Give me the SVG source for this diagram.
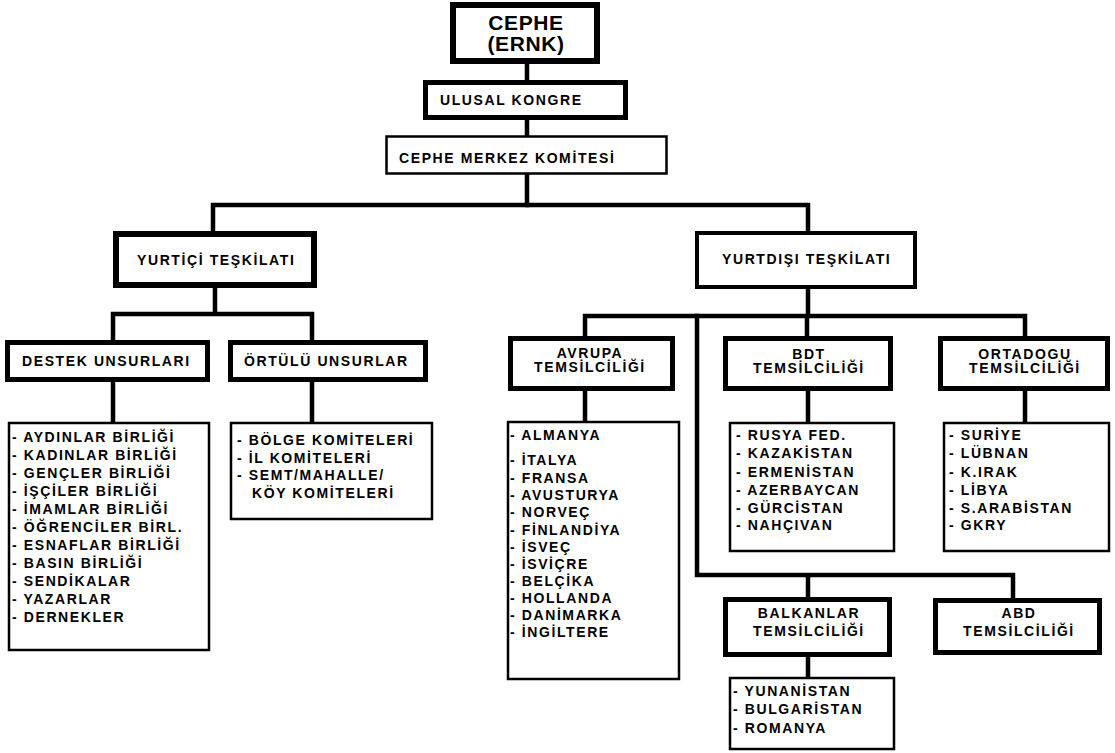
<svg xmlns="http://www.w3.org/2000/svg" width="1115" height="753" viewBox="0 0 1115 753">
<style>
.b{fill:#fff;stroke:#000;stroke-width:5}
.b6{fill:#fff;stroke:#000;stroke-width:6}
.b4{fill:#fff;stroke:#000;stroke-width:4}
.l{fill:#fff;stroke:#000;stroke-width:2.5}
.c{fill:none;stroke:#000;stroke-width:4.5;stroke-linejoin:miter;stroke-linecap:square}
text{font-family:"Liberation Sans",Arial,Helvetica,sans-serif;font-weight:bold;font-size:14px;letter-spacing:1.6px;fill:#000}
.ttl{font-size:21px;letter-spacing:0.6px}
.m{text-anchor:middle}
</style>
<rect width="1115" height="753" fill="#fff"/>
<g id="connectors">
<path class="c" d="M527 64V80M527 120V135M527 175V205"/>
<path class="c" d="M213 231V205H808V231"/>
<path class="c" d="M215 288V314M113 340V314H312V340"/>
<path class="c" d="M113 382V422M312 382V422"/>
<path class="c" d="M808 289V316M585 336V316H1025V336M807 316V336"/>
<path class="c" d="M697 316V575H1013V598M808 575V597"/>
<path class="c" d="M585 391V422M808 391V422M1025 391V422M808 657V677"/>
</g>
<g id="cephe"><rect class="b6" x="453" y="5" width="144" height="56"/>
<text class="ttl m" x="526" y="30">CEPHE</text><text class="ttl m" x="526" y="51">(ERNK)</text></g>
<g id="ulusal"><rect class="b" x="425.5" y="82.5" width="200" height="35"/><text x="440" y="105">ULUSAL KONGRE</text></g>
<g id="merkez"><rect class="l" x="386.5" y="136.5" width="280" height="37"/><text x="399" y="163">CEPHE MERKEZ KOMİTESİ</text></g>
<g id="yurtici"><rect class="b6" x="116" y="234" width="198" height="51"/><text x="137" y="265">YURTİÇİ TEŞKİLATI</text></g>
<g id="yurtdisi"><rect class="b4" x="697" y="233" width="218" height="54"/><text x="722" y="264">YURTDIŞI TEŞKİLATI</text></g>
<g id="destek"><rect class="b" x="7.5" y="342.5" width="200" height="37"/><text x="22" y="366">DESTEK UNSURLARI</text></g>
<g id="ortulu"><rect class="b" x="230.5" y="342.5" width="195" height="37"/><text x="244" y="366">ÖRTÜLÜ UNSURLAR</text></g>
<g id="destek-list"><rect class="l" x="9" y="423" width="200" height="227"/>
<text x="12" y="442">- AYDINLAR BİRLİĞİ</text>
<text x="12" y="460">- KADINLAR BİRLİĞİ</text>
<text x="12" y="478">- GENÇLER BİRLİĞİ</text>
<text x="12" y="496">- İŞÇİLER BİRLİĞİ</text>
<text x="12" y="514">- İMAMLAR BİRLİĞİ</text>
<text x="12" y="532">- ÖĞRENCİLER BİRL.</text>
<text x="12" y="550">- ESNAFLAR BİRLİĞİ</text>
<text x="12" y="568">- BASIN BİRLİĞİ</text>
<text x="12" y="586">- SENDİKALAR</text>
<text x="12" y="604">- YAZARLAR</text>
<text x="12" y="622">- DERNEKLER</text></g>
<g id="ortulu-list"><rect class="l" x="231" y="423" width="201" height="96"/>
<text x="237" y="445">- BÖLGE KOMİTELERİ</text>
<text x="237" y="463">- İL KOMİTELERİ</text>
<text x="237" y="480">- SEMT/MAHALLE/</text>
<text x="252" y="498">KÖY KOMİTELERİ</text></g>
<g id="avrupa"><rect class="b" x="510.5" y="338.5" width="162" height="50"/>
<text class="m" x="590" y="358">AVRUPA</text><text class="m" x="590" y="372">TEMSİLCİLİĞİ</text></g>
<g id="bdt"><rect class="b" x="725.5" y="338.5" width="165" height="50"/>
<text class="m" x="809" y="359">BDT</text><text class="m" x="809" y="373">TEMSİLCİLİĞİ</text></g>
<g id="ortadogu"><rect class="b" x="940.5" y="338.5" width="167" height="50"/>
<text class="m" x="1025" y="359">ORTADOGU</text><text class="m" x="1025" y="373">TEMSİLCİLİĞİ</text></g>
<g id="avrupa-list"><rect class="l" x="508" y="422" width="171" height="257"/>
<text x="510" y="440">- ALMANYA</text>
<text x="510" y="465">- İTALYA</text>
<text x="510" y="483">- FRANSA</text>
<text x="510" y="500">- AVUSTURYA</text>
<text x="510" y="517">- NORVEÇ</text>
<text x="510" y="535">- FİNLANDİYA</text>
<text x="510" y="552">- İSVEÇ</text>
<text x="510" y="569">- İSVİÇRE</text>
<text x="510" y="586">- BELÇİKA</text>
<text x="510" y="603">- HOLLANDA</text>
<text x="510" y="620">- DANİMARKA</text>
<text x="510" y="637">- İNGİLTERE</text></g>
<g id="bdt-list"><rect class="l" x="730" y="423" width="164" height="128"/>
<text x="736" y="440">- RUSYA FED.</text>
<text x="736" y="458">- KAZAKİSTAN</text>
<text x="736" y="477">- ERMENİSTAN</text>
<text x="736" y="495">- AZERBAYCAN</text>
<text x="736" y="513">- GÜRCİSTAN</text>
<text x="736" y="530">- NAHÇIVAN</text></g>
<g id="ortadogu-list"><rect class="l" x="944" y="423" width="165" height="128"/>
<text x="949" y="440">- SURİYE</text>
<text x="949" y="458">- LÜBNAN</text>
<text x="949" y="477">- K.IRAK</text>
<text x="949" y="495">- LİBYA</text>
<text x="949" y="513">- S.ARABİSTAN</text>
<text x="949" y="530">- GKRY</text></g>
<g id="balkanlar"><rect class="b" x="725.5" y="599.5" width="164" height="55"/>
<text class="m" x="809" y="618">BALKANLAR</text><text class="m" x="809" y="636">TEMSİLCİLİĞİ</text></g>
<g id="abd"><rect class="b" x="935.5" y="600.5" width="164" height="52"/>
<text class="m" x="1019" y="618">ABD</text><text class="m" x="1019" y="636">TEMSİLCİLİĞİ</text></g>
<g id="balkanlar-list"><rect class="l" x="730" y="678" width="164" height="71"/>
<text x="733" y="696">- YUNANİSTAN</text>
<text x="733" y="714">- BULGARİSTAN</text>
<text x="733" y="733">- ROMANYA</text></g>
</svg>
